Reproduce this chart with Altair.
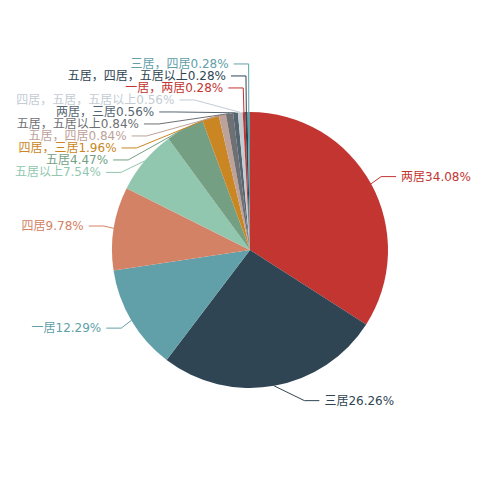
import math
import altair as alt
import pandas as pd

names = ["两居", "三居", "一居", "四居", "五居以上", "五居", "四居，三居",
         "五居，四居", "五居，五居以上", "两居，三居", "四居，五居，五居以上",
         "一居，两居", "五居，四居，五居以上", "三居，四居"]
values = [34.08, 26.26, 12.29, 9.78, 7.54, 4.47, 1.96, 0.84, 0.84, 0.56, 0.56,
          0.28, 0.28, 0.28]
palette = ["#c23531", "#2f4554", "#61a0a8", "#d48265", "#91c7ae", "#749f83",
           "#ca8622", "#bda29a", "#6e7074", "#546570", "#c4ccd3"]
colors = [palette[i % len(palette)] for i in range(len(names))]
labels = [f"{n}{v:.2f}%" for n, v in zip(names, values)]

# ---- pie label layout (ECharts-style outer labels with overlap avoidance) ----
CX, CY, R = 250.0, 250.0, 138.0
LEN1, LEN2, DIST, TH = 15.0, 15.0, 5.0, 12.0
VIEW_H = 500.0

total = sum(values)
items = []
cum = 0.0
for i, (n, v) in enumerate(zip(names, values)):
    mid = (cum + v / 2) / total * 2 * math.pi
    cum += v
    dx, dy = math.sin(mid), -math.cos(mid)
    x1, y1 = CX + R * dx, CY + R * dy
    x2, y2 = x1 + dx * LEN1, y1 + dy * LEN1
    sgn = -1 if dx < 0 else 1
    x3, y3 = x2 + sgn * LEN2, y2
    items.append(dict(idx=i, x=x3 + sgn * DIST, y=y3, height=TH,
                      pts=[[x1, y1], [x2, y2], [x3, y3]]))


def adjust_single_side(lst, d):
    lst.sort(key=lambda a: a["y"])
    n = len(lst)

    def shift_up(end, delta):
        for j in range(end, -1, -1):
            if lst[j]["y"] - delta < 0:
                break
            lst[j]["y"] -= delta
            if j > 0 and lst[j]["y"] > lst[j - 1]["y"] + lst[j - 1]["height"]:
                break

    def shift_down(start, end, delta):
        for j in range(start, end):
            if lst[j]["y"] + delta > VIEW_H:
                break
            lst[j]["y"] += delta
            if j > start and j + 1 < end and lst[j + 1]["y"] > lst[j]["y"] + lst[j]["height"]:
                shift_up(j, delta / 2)
                return
        shift_up(end - 1, delta / 2)

    def change_x(sub, is_down):
        last = float("inf") if is_down else 0.0
        for a in sub:
            dyv = abs(a["y"] - CY)
            if dyv < R + LEN1:
                dxv = math.sqrt((R + LEN1 + LEN2) ** 2 - dyv ** 2)
            else:
                dxv = abs(a["x"] - CX)
            if is_down and dxv >= last:
                dxv = last - 10
            if (not is_down) and dxv <= last:
                dxv = last + 10
            a["x"] = CX + dxv * d
            last = dxv

    last_y = 0.0
    for i in range(n):
        delta = lst[i]["y"] - last_y
        if delta < 0:
            shift_down(i, n, -delta)
        last_y = lst[i]["y"] + lst[i]["height"]
    if VIEW_H - last_y < 0:
        shift_up(n - 1, last_y - VIEW_H)
    change_x([a for a in lst if a["y"] < CY], False)
    change_x([a for a in lst if a["y"] >= CY], True)


left = [a for a in items if a["x"] < CX]
right = [a for a in items if a["x"] >= CX]
adjust_single_side(right, 1)
adjust_single_side(left, -1)

line_rows, text_rows = [], []
for a in items:
    pts = a["pts"]
    off = pts[1][0] - pts[2][0]
    side = "left" if a["x"] < CX else "right"
    pts[2][0] = a["x"] + DIST if side == "left" else a["x"] - DIST
    pts[1][0] = pts[2][0] + off
    pts[1][1] = pts[2][1] = a["y"]
    i = a["idx"]
    for k, (px, py) in enumerate(pts):
        line_rows.append(dict(name=names[i], k=k, x=px, y=py))
    text_rows.append(dict(name=names[i], label=labels[i], x=a["x"], y=a["y"], side=side))

pie_df = pd.DataFrame({"name": names, "value": values, "order": list(range(len(names)))})
line_df = pd.DataFrame(line_rows)
text_df = pd.DataFrame(text_rows)

color = alt.Color("name:N", scale=alt.Scale(domain=names, range=colors), legend=None)
xs = alt.X("x:Q", scale=alt.Scale(domain=[8, 492], nice=False, zero=False), axis=None)
ys = alt.Y("y:Q", scale=alt.Scale(domain=[8, 492], nice=False, zero=False, reverse=True), axis=None)
FONT = "DejaVu Sans, Noto Sans CJK SC"

pie = alt.Chart(pie_df).mark_arc(radius=138).encode(
    theta=alt.Theta("value:Q", stack=True),
    color=color,
    order=alt.Order("order:Q"),
)
lines = alt.Chart(line_df).mark_line(strokeWidth=1).encode(
    x=xs, y=ys, color=color, detail="name:N", order=alt.Order("k:Q"))
txt_r = alt.Chart(text_df).transform_filter(alt.datum.side == "right").mark_text(
    align="left", baseline="middle", fontSize=12, font=FONT).encode(
    x=xs, y=ys, text="label:N", color=color)
txt_l = alt.Chart(text_df).transform_filter(alt.datum.side == "left").mark_text(
    align="right", baseline="middle", fontSize=12, font=FONT).encode(
    x=xs, y=ys, text="label:N", color=color)

chart = alt.layer(pie, lines, txt_r, txt_l).properties(
    width=484, height=484, padding=0, autosize=alt.AutoSizeParams(type="none")
).configure_view(stroke=None)

chart.save("out.html", embed_options={"renderer": "svg", "actions": False})
